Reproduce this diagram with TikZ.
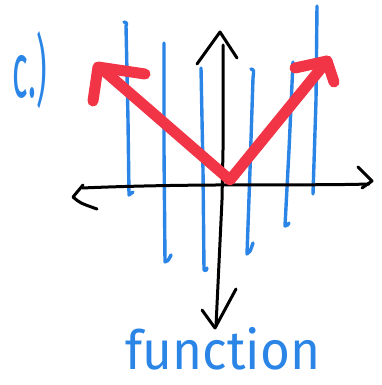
\documentclass[tikz,border=0pt]{standalone}
\usepackage{fontspec}
\newfontfamily\handfont{Fira Sans}
\definecolor{penblue}{HTML}{2A85E6}
\definecolor{penred}{HTML}{F23447}
\tikzset{
  axisline/.style={draw=black, line width=3pt, line cap=round, line join=round},
  vline/.style={draw=penblue, line width=3.4pt, line cap=round, line join=round},
  vshape/.style={draw=penred, line width=11pt, line cap=round, line join=round},
  handtext/.style={text=penblue, inner sep=0pt}
}
\begin{document}
\begin{tikzpicture}[x=1pt,y=-1pt]
\useasboundingbox (0,0) rectangle (382,385);
% blue vertical lines
\draw[vline] (124,22) .. controls (127,23) .. (126,26) -- (128,120) -- (129,195) .. controls (131,193) .. (133,192);
\draw[vline] (164,43) -- (164,150) -- (165,262) .. controls (168,261) .. (171,255);
\draw[vline] (201,68) -- (203,170) -- (204,270) .. controls (206,271) .. (207,268);
\draw[vline] (251,69) .. controls (254,70) .. (253,78) -- (250,170) -- (247,254) .. controls (250,252) .. (253,243);
\draw[vline] (293,62) -- (289,150) -- (285,226) .. controls (288,225) .. (289,223);
\draw[vline] (317,6) -- (316,100) -- (313,194);
% x axis
\coordinate (xl) at (82,188);
\coordinate (xr) at (369,184);
\draw[axisline] (xl) .. controls (200,183) and (300,186) .. (xr);
\draw[axisline] (83,185) -- (73,197) .. controls (80,203) .. (97,209);
\draw[axisline] (358,167) -- (372,181) -- (362,188);
% y axis
\coordinate (yt) at (223,45);
\coordinate (yb) at (216,326);
\draw[axisline] (yt) -- (223,150) -- (222,200) -- (yb);
\draw[axisline] (197,64) -- (220,32) -- (237,58);
\draw[axisline] (202,310) -- (215,328) -- (236,289);
% red V
\coordinate (vtx) at (230,180);
\draw[vshape] (102,69) -- (vtx) -- (327,61);
\draw[vshape] (93,101) -- (98,67) -- (145,74);
\draw[vshape] (295,68) -- (327,61) -- (334,82);
% texts
\node[handtext, font=\handfont\fontsize{78}{78}\selectfont, xscale=0.42, anchor=center] (lbl) at (30,70) {c.)};
\node[handtext, font=\handfont\fontsize{54}{54}\selectfont, xscale=0.95, anchor=base] (fn) at (223,369) {function};
\end{tikzpicture}
\end{document}
